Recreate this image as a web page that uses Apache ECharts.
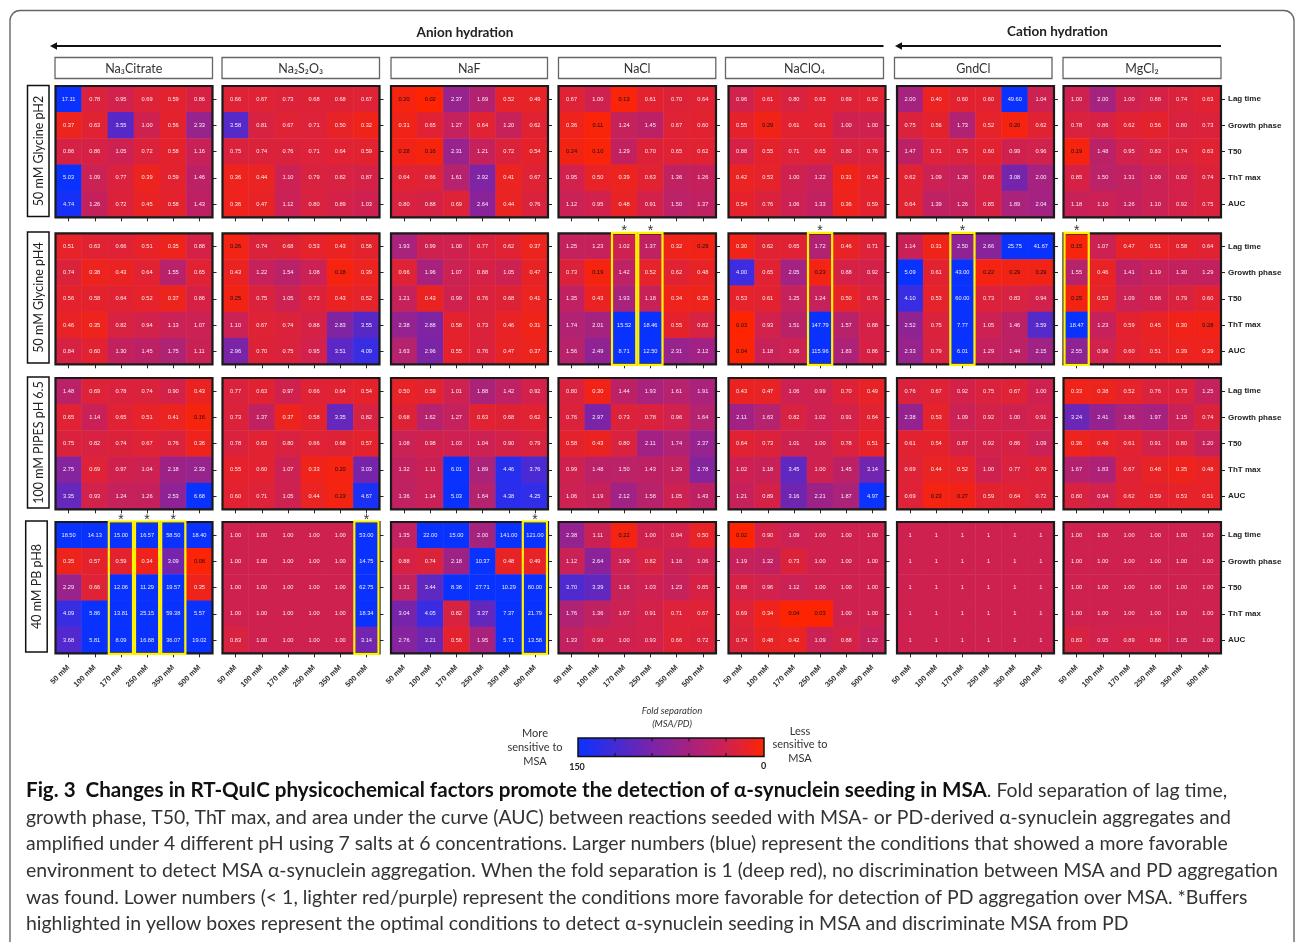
<!DOCTYPE html>
<html><head><meta charset="utf-8">
<style>html,body{margin:0;padding:0;background:#fff}#c{width:1295px;height:942px}</style>
<script src="https://cdn.jsdelivr.net/npm/echarts@6/dist/echarts.min.js"></script>
</head><body><div id="c"></div>
<script>
const concentrations = ['50 mM','100 mM','170 mM','250 mM','350 mM','500 mM'];
const metrics = ['Lag time','Growth phase','T50','ThT max','AUC'];
const salts = ['Na₃Citrate','Na₂S₂O₃','NaF','NaCl','NaClO₄','GndCl','MgCl₂'];
const buffers = ['50 mM Glycine pH2','50 mM Glycine pH4','100 mM PIPES pH 6.5','40 mM PB pH8'];

const ph2Citrate=[[17.11,0.78,0.95,0.69,0.59,0.86],[0.37,0.63,3.55,1.00,0.56,2.33],[0.86,0.86,1.05,0.72,0.58,1.16],[5.03,1.09,0.77,0.39,0.59,1.46],[4.74,1.26,0.72,0.45,0.58,1.43]];
const ph2Thio=[[0.66,0.67,0.73,0.68,0.68,0.67],[3.58,0.81,0.67,0.71,0.50,0.32],[0.75,0.74,0.76,0.71,0.64,0.59],[0.36,0.44,1.10,0.79,0.82,0.87],[0.36,0.47,1.12,0.80,0.89,1.03]];
const ph2NaF=[[0.20,0.02,2.37,1.69,0.52,0.49],[0.31,0.65,1.27,0.64,1.20,0.62],[0.28,0.16,2.31,1.21,0.72,0.54],[0.64,0.66,1.61,2.92,0.41,0.67],[0.80,0.88,0.69,2.64,0.44,0.76]];
const ph2NaCl=[[0.67,1.00,0.13,0.61,0.70,0.64],[0.36,0.11,1.24,1.45,0.67,0.60],[0.24,0.10,1.29,0.70,0.65,0.62],[0.95,0.50,0.39,0.63,1.36,1.26],[1.12,0.95,0.48,0.91,1.50,1.37]];
const ph2ClO4=[[0.96,0.61,0.80,0.63,0.69,0.62],[0.55,0.29,0.61,0.61,1.00,1.00],[0.88,0.55,0.71,0.65,0.80,0.76],[0.42,0.53,1.00,1.22,0.31,0.54],[0.54,0.76,1.06,1.33,0.36,0.59]];
const ph2Gnd=[[2.00,0.40,0.60,0.60,49.60,1.04],[0.75,0.56,1.73,0.52,0.20,0.62],[1.47,0.71,0.75,0.60,0.99,0.96],[0.62,1.09,1.28,0.86,3.08,2.00],[0.64,1.39,1.26,0.85,1.89,2.04]];
const ph2Mg=[[1.00,2.00,1.00,0.88,0.74,0.63],[0.78,0.86,0.62,0.56,0.80,0.73],[0.19,1.48,0.95,0.83,0.74,0.63],[0.85,1.50,1.31,1.09,0.92,0.74],[1.18,1.10,1.26,1.10,0.92,0.75]];

const ph4Citrate=[[0.51,0.63,0.66,0.51,0.35,0.88],[0.74,0.38,0.43,0.64,1.55,0.65],[0.56,0.58,0.64,0.52,0.37,0.86],[0.46,0.35,0.82,0.94,1.13,1.07],[0.84,0.60,1.30,1.45,1.75,1.11]];
const ph4Thio=[[0.26,0.74,0.68,0.53,0.43,0.56],[0.43,1.22,1.54,1.08,0.18,0.39],[0.25,0.75,1.05,0.73,0.43,0.52],[1.10,0.67,0.74,0.88,2.83,3.55],[2.96,0.70,0.75,0.95,3.51,4.09]];
const ph4NaF=[[1.93,0.99,1.00,0.77,0.62,0.37],[0.66,1.96,1.07,0.88,1.05,0.47],[1.21,0.43,0.99,0.76,0.68,0.41],[2.38,2.88,0.58,0.73,0.46,0.31],[1.63,2.96,0.55,0.76,0.47,0.37]];
const ph4NaCl=[[1.25,1.23,1.02,1.37,0.32,0.29],[0.73,0.19,1.42,0.52,0.62,0.48],[1.35,0.43,1.93,1.18,0.34,0.35],[1.74,2.01,15.52,18.46,0.55,0.82],[1.56,2.49,8.71,12.50,2.31,2.12]];
const ph4ClO4=[[0.30,0.62,0.65,1.72,0.46,0.71],[4.00,0.65,2.05,0.23,0.88,0.92],[0.53,0.61,1.25,1.24,0.50,0.76],[0.03,0.93,1.51,147.79,1.57,0.88],[0.04,1.18,1.06,115.96,1.83,0.86]];
const ph4Gnd=[[1.14,0.31,2.50,2.66,25.75,41.67],[5.09,0.61,43.00,0.22,0.29,0.29],[4.10,0.53,60.00,0.73,0.83,0.94],[2.52,0.75,7.77,1.05,1.46,3.59],[2.33,0.79,6.01,1.29,1.44,2.15]];
const ph4Mg=[[0.15,1.07,0.47,0.51,0.58,0.64],[1.55,0.46,1.41,1.19,1.30,1.29],[0.25,0.53,1.09,0.98,0.79,0.60],[18.47,1.23,0.59,0.45,0.30,0.28],[2.55,0.96,0.60,0.51,0.39,0.39]];

const ph65Citrate=[[1.48,0.69,0.78,0.74,0.90,0.43],[0.65,1.14,0.65,0.51,0.41,0.16],[0.75,0.82,0.74,0.67,0.76,0.36],[2.75,0.69,0.97,1.04,2.18,2.33],[3.35,0.93,1.24,1.26,2.53,6.68]];
const ph65Thio=[[0.77,0.63,0.97,0.66,0.64,0.54],[0.73,1.37,0.37,0.58,3.35,0.82],[0.78,0.63,0.80,0.66,0.68,0.57],[0.55,0.60,1.07,0.33,0.20,3.03],[0.60,0.71,1.05,0.44,0.23,4.67]];
const ph65NaF=[[0.50,0.59,1.01,1.88,1.42,0.92],[0.68,1.62,1.27,0.63,0.68,0.62],[1.08,0.98,1.03,1.04,0.90,0.79],[1.32,1.11,6.01,1.89,4.46,3.76],[1.36,1.14,5.03,1.64,4.38,4.25]];
const ph65NaCl=[[0.80,0.30,1.44,1.93,1.61,1.91],[0.76,2.97,0.73,0.78,0.96,1.64],[0.58,0.43,0.80,2.11,1.74,2.37],[0.99,1.48,1.50,1.43,1.29,2.78],[1.06,1.19,2.12,1.58,1.05,1.43]];
const ph65ClO4=[[0.43,0.47,1.06,0.99,0.70,0.49],[2.11,1.63,0.82,1.02,0.91,0.64],[0.64,0.73,1.01,1.00,0.78,0.51],[1.02,1.18,3.45,1.00,1.45,3.14],[1.21,0.89,3.16,2.21,1.87,4.97]];
const ph65Gnd=[[0.76,0.67,0.92,0.75,0.67,1.00],[2.38,0.53,1.09,0.92,1.00,0.91],[0.61,0.54,0.87,0.92,0.86,1.09],[0.69,0.44,0.52,1.00,0.77,0.70],[0.69,0.23,0.27,0.59,0.64,0.72]];
const ph65Mg=[[0.33,0.38,0.52,0.76,0.73,1.25],[3.24,2.41,1.86,1.97,1.15,0.74],[0.36,0.49,0.61,0.91,0.80,1.20],[1.67,1.83,0.67,0.48,0.35,0.48],[0.80,0.94,0.62,0.59,0.53,0.51]];

const ph8Citrate=[[18.50,14.13,15.00,16.57,58.50,18.40],[0.35,0.57,0.59,0.34,3.09,0.08],[2.29,0.66,12.06,11.29,19.57,0.35],[4.09,5.86,13.81,25.15,59.38,5.57],[3.68,5.81,8.09,16.88,36.07,19.02]];
const ph8Thio=[[1.00,1.00,1.00,1.00,1.00,53.00],[1.00,1.00,1.00,1.00,1.00,14.75],[1.00,1.00,1.00,1.00,1.00,62.75],[1.00,1.00,1.00,1.00,1.00,18.34],[0.83,1.00,1.00,1.00,1.00,3.14]];
const ph8NaF=[[1.35,22.00,15.00,2.00,141.00,121.00],[0.88,0.74,2.18,10.37,0.48,0.49],[1.31,3.44,8.36,27.71,10.29,80.00],[3.04,4.05,0.82,3.37,7.37,21.79],[2.76,3.21,0.56,1.95,5.71,13.58]];
const ph8NaCl=[[2.38,1.11,0.22,1.00,0.94,0.50],[1.12,2.64,1.09,0.82,1.16,1.06],[3.70,3.39,1.16,1.03,1.23,0.85],[1.76,1.36,1.07,0.91,0.71,0.67],[1.33,0.99,1.00,0.93,0.66,0.72]];
const ph8ClO4=[[0.02,0.90,1.09,1.00,1.00,1.00],[1.19,1.32,0.73,1.00,1.00,1.00],[0.88,0.96,1.12,1.00,1.00,1.00],[0.69,0.34,0.04,0.03,1.00,1.00],[0.74,0.48,0.42,1.09,0.88,1.22]];
const ph8Gnd=[[1,1,1,1,1,1],[1,1,1,1,1,1],[1,1,1,1,1,1],[1,1,1,1,1,1],[1,1,1,1,1,1]];
const ph8Mg=[[1.00,1.00,1.00,1.00,1.00,1.00],[1.00,1.00,1.00,1.00,1.00,1.00],[1.00,1.00,1.00,1.00,1.00,1.00],[1.00,1.00,1.00,1.00,1.00,1.00],[0.83,0.95,0.89,0.88,1.05,1.00]];

const tables=[
 [ph2Citrate,ph2Thio,ph2NaF,ph2NaCl,ph2ClO4,ph2Gnd,ph2Mg],
 [ph4Citrate,ph4Thio,ph4NaF,ph4NaCl,ph4ClO4,ph4Gnd,ph4Mg],
 [ph65Citrate,ph65Thio,ph65NaF,ph65NaCl,ph65ClO4,ph65Gnd,ph65Mg],
 [ph8Citrate,ph8Thio,ph8NaF,ph8NaCl,ph8ClO4,ph8Gnd,ph8Mg]
];
// optimal conditions: buffer index, salt index, concentration index
const optimal=[[1,3,2],[1,3,3],[1,4,3],[1,5,2],[1,6,0],[3,0,2],[3,0,3],[3,0,4],[3,1,5],[3,2,5]];

const captionLines=[
 ['Fig. 3  Changes in RT-QuIC physicochemical factors promote the detection of α-synuclein seeding in MSA','. Fold separation of lag time,'],
 ['','growth phase, T50, ThT max, and area under the curve (AUC) between reactions seeded with MSA- or PD-derived α-synuclein aggregates and'],
 ['','amplified under 4 different pH using 7 salts at 6 concentrations. Larger numbers (blue) represent the conditions that showed a more favorable'],
 ['','environment to detect MSA α-synuclein aggregation. When the fold separation is 1 (deep red), no discrimination between MSA and PD aggregation'],
 ['','was found. Lower numbers (< 1, lighter red/purple) represent the conditions more favorable for detection of PD aggregation over MSA. *Buffers'],
 ['','highlighted in yellow boxes represent the optimal conditions to detect α-synuclein seeding in MSA and discriminate MSA from PD']
];

// layout
const panelX=[[55.5,157],[222.5,157],[391,157],[558.5,157.5],[728.5,157],[897,157],[1063.5,157.5]];
const panelY=[[86,131.3],[233.3,131],[378,131.3],[522,131.3]];
const boxY=[[85.5,131],[232,131],[377,131],[521,131]];
const boxX=[27.5,27.5,27.5,25.7];
const headX=[[55,157.5],[222,157.5],[391,156.5],[558.5,157.3],[725.5,158],[894.5,157.5],[1063,158]];
const captionY=[790.5,817.5,844,871,897.5,924];
const lab='"Liberation Sans",Arial,sans-serif', ui='Lato,"Noto Sans",sans-serif';

const grids=[],xAxes=[],yAxes=[],series=[],heatIdx=[];
tables.forEach((rowT,r)=>rowT.forEach((tbl,s)=>{
  const i=grids.length;
  grids.push({left:panelX[s][0],top:panelY[r][0],width:panelX[s][1],height:panelY[r][1],show:true,backgroundColor:'transparent',borderColor:'#1a1a1a',borderWidth:2.2,z:5});
  xAxes.push({gridIndex:i,type:'category',data:concentrations,position:'bottom',
    axisLine:{show:false},axisTick:{show:true,alignWithLabel:true,length:4,lineStyle:{color:'#222',width:1}},splitLine:{show:false},splitArea:{show:false},
    axisLabel:{show:r===3,rotate:45,margin:13,fontFamily:lab,fontWeight:'bold',fontSize:7.6,color:'#333',interval:0}});
  yAxes.push({gridIndex:i,type:'category',data:metrics,position:'right',inverse:true,
    axisLine:{show:false},axisTick:{show:true,alignWithLabel:true,length:4,lineStyle:{color:'#222',width:1}},splitLine:{show:false},splitArea:{show:false},
    axisLabel:{show:s===6,margin:7,fontFamily:lab,fontWeight:'bold',fontSize:8,color:'#222',interval:0}});
  const plain=(tbl===ph8Gnd);
  const data=[];
  tbl.forEach((vals,y)=>vals.forEach((v,x)=>data.push({value:[x,y,v],label:{color:v<0.30?'#111':'rgba(255,255,255,0.92)',formatter:plain?String(v):v.toFixed(2)}})));
  heatIdx.push(series.length);
  series.push({type:'heatmap',xAxisIndex:i,yAxisIndex:i,data,silent:true,z:2,
    label:{show:true,fontFamily:lab,fontSize:5.7},
    itemStyle:{borderWidth:0.4,borderColor:'rgba(255,255,255,0.05)'},
    emphasis:{disabled:true}});
  const hi=optimal.filter(o=>o[0]===r&&o[1]===s).map(o=>[o[2],0]);
  if(hi.length) series.push({type:'custom',xAxisIndex:i,yAxisIndex:i,data:hi,silent:true,z:8,clip:false,
    encode:{x:0,y:1},
    renderItem:(p,api)=>{
      const c=api.coord([api.value(0),0]),sz=api.size([1,1]);
      const x0=c[0]-sz[0]/2+1,y0=c[1]-sz[1]/2;
      return {type:'group',children:[
        {type:'rect',shape:{x:x0,y:y0-0.5,width:sz[0]-2,height:sz[1]*5+1},style:{fill:'none',stroke:'#fff200',lineWidth:2.2}},
        {type:'text',style:{text:'*',x:c[0],y:y0-2,align:'center',verticalAlign:'middle',font:'14px '+lab,fill:'#333'}}
      ]};
    }});
}));

const g=[];
const T=(text,x,y,font,fill,o)=>g.push(Object.assign({type:'text',silent:true,z:20,x,y,style:{text,font,fill:fill||'#222',align:'center',verticalAlign:'middle'}},o||{}));
// outer frame
g.push({type:'rect',silent:true,z:0,shape:{x:10,y:10.5,width:1284,height:1000,r:10},style:{fill:'none',stroke:'#666',lineWidth:1.4}});
// arrows
[[50,883.5],[895,1221]].forEach(a=>{
  g.push({type:'line',silent:true,z:10,shape:{x1:a[0]+3,y1:46,x2:a[1],y2:46},style:{stroke:'#111',lineWidth:2}});
  g.push({type:'polygon',silent:true,z:10,shape:{points:[[a[0],46],[a[0]+7,42.3],[a[0]+7,49.7]]},style:{fill:'#111'}});
});
T('Anion hydration',465,33,'bold 13.5px '+ui);
T('Cation hydration',1057.5,32,'bold 13.5px '+ui);
// salt headers
salts.forEach((s,i)=>{
  g.push({type:'rect',silent:true,z:10,shape:{x:headX[i][0],y:57.5,width:headX[i][1],height:21},style:{fill:'#fff',stroke:'#666',lineWidth:1.3}});
  T(s,headX[i][0]+headX[i][1]/2,68.5,'12.5px '+ui,'#333');
});
// buffer labels
buffers.forEach((b,i)=>{
  g.push({type:'rect',silent:true,z:10,shape:{x:boxX[i],y:boxY[i][0],width:21.5,height:boxY[i][1]},style:{fill:'#fff',stroke:'#111',lineWidth:1.5}});
  T(b,boxX[i]+11,boxY[i][0]+boxY[i][1]/2,'12.5px '+ui,'#222',{rotation:Math.PI/2});
});
// colour key
g.push({type:'rect',silent:true,z:10,shape:{x:578,y:738,width:186,height:18.5},
  style:{stroke:'#111',lineWidth:1.5,fill:{type:'linear',x:0,y:0,x2:1,y2:0,colorStops:[{offset:0,color:'#0a32ff'},{offset:.4,color:'#7a24a8'},{offset:.6,color:'#a6227f'},{offset:.8,color:'#cf2150'},{offset:1,color:'#ff2400'}]}}});
[615,652,689,726].forEach(x=>{
  g.push({type:'line',silent:true,z:11,shape:{x1:x,y1:738,x2:x,y2:741.5},style:{stroke:'#111',lineWidth:1}});
  g.push({type:'line',silent:true,z:11,shape:{x1:x,y1:753,x2:x,y2:756.5},style:{stroke:'#111',lineWidth:1}});
});
T('150',577,767,'bold 9px '+ui,'#222');
T('0',763.5,766,'bold 9px '+ui,'#222');
T('Fold separation',672,711,'italic 9.5px '+ui,'#333');
T('(MSA/PD)',672,724,'italic 9.5px '+ui,'#333');
['More','sensitive to','MSA'].forEach((t,i)=>T(t,535,733+i*14,'11px '+ui,'#333'));
['Less','sensitive to','MSA'].forEach((t,i)=>T(t,800,731+i*13.7,'11px '+ui,'#333'));
// caption
captionLines.forEach((l,i)=>{
  g.push({type:'text',silent:true,z:20,x:26,y:captionY[i],style:{
    text:(l[0]?'{b|'+l[0]+'}':'')+'{r|'+l[1]+'}',align:'left',verticalAlign:'middle',
    rich:{b:{font:'bold 20.6px Lato,sans-serif',fill:'#111',color:'#111'},r:{font:'19.45px Lato,sans-serif',fill:'#333',color:'#333'}}}});
});

const chart=echarts.init(document.getElementById('c'),null,{renderer:'canvas'});
chart.setOption({animation:false,backgroundColor:'#fff',grid:grids,xAxis:xAxes,yAxis:yAxes,
  visualMap:{type:'continuous',show:false,min:0,max:5,dimension:2,seriesIndex:heatIdx,calculable:false,
    inRange:{color:['#ff2400','#cf2150','#a6227f','#7a24a8','#3d2ce0','#0a32ff']}},
  series,graphic:{elements:g}});
</script></body></html>
